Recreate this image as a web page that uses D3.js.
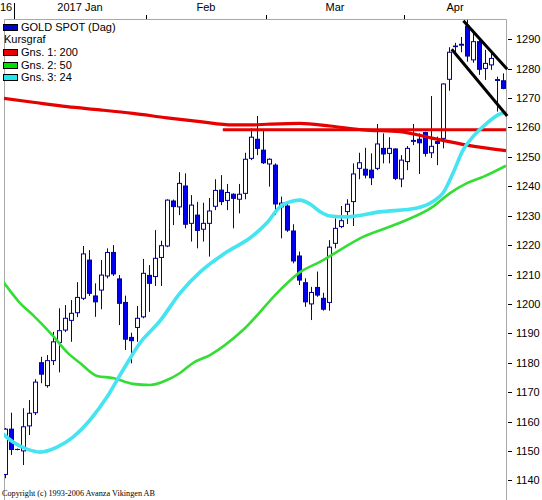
<!DOCTYPE html>
<html lang="sv">
<head>
<meta charset="UTF-8">
<title>GOLD SPOT (Dag)</title>
<script src="https://d3js.org/d3.v7.min.js"></script>
<style>
  * { margin: 0; padding: 0; box-sizing: border-box; }
  body { background: #fff; font-family: "Liberation Sans", Arial, sans-serif; }
  svg { display: block; }
</style>
</head>
<body>
<div id="chart"></div>
<script>
// daily candles, 29 Dec 2016 - 25 Apr 2017
const dates = [
  "2016-12-29","2016-12-30",
  "2017-01-02","2017-01-03","2017-01-04","2017-01-05","2017-01-06","2017-01-09","2017-01-10","2017-01-11",
  "2017-01-12","2017-01-13","2017-01-16","2017-01-17","2017-01-18","2017-01-19","2017-01-20","2017-01-23",
  "2017-01-24","2017-01-25","2017-01-26","2017-01-27","2017-01-30","2017-01-31",
  "2017-02-01","2017-02-02","2017-02-03","2017-02-06","2017-02-07","2017-02-08","2017-02-09","2017-02-10",
  "2017-02-13","2017-02-14","2017-02-15","2017-02-16","2017-02-17","2017-02-20","2017-02-21","2017-02-22",
  "2017-02-23","2017-02-24","2017-02-27","2017-02-28",
  "2017-03-01","2017-03-02","2017-03-03","2017-03-06","2017-03-07","2017-03-08","2017-03-09","2017-03-10",
  "2017-03-13","2017-03-14","2017-03-15","2017-03-16","2017-03-17","2017-03-20","2017-03-21","2017-03-22",
  "2017-03-23","2017-03-24","2017-03-27","2017-03-28","2017-03-29","2017-03-30","2017-03-31",
  "2017-04-03","2017-04-04","2017-04-05","2017-04-06","2017-04-07","2017-04-10","2017-04-11","2017-04-12",
  "2017-04-13","2017-04-14","2017-04-17","2017-04-18","2017-04-19","2017-04-20","2017-04-21","2017-04-24",
  "2017-04-25"
];
const open = [
  1142.0,1157.4,1150.5,1150.0,1158.5,1163.0,1180.0,1172.2,1180.7,1186.9,1191.1,1194.4,1197.0,1201.9,
  1214.9,1202.7,1204.7,1209.5,1217.5,1208.5,1200.5,1188.6,1192.0,1195.6,1209.7,1209.3,1215.8,1219.7,
  1235.0,1233.0,1240.1,1227.4,1230.2,1225.4,1227.4,1233.2,1238.7,1235.2,1237.3,1235.6,1237.6,1249.5,
  1256.0,1252.3,1247.6,1247.2,1233.0,1233.3,1224.8,1216.3,1207.2,1200.0,1205.6,1201.9,1200.5,1220.6,
  1226.3,1231.4,1234.8,1246.1,1245.8,1245.5,1246.1,1252.9,1251.2,1252.7,1242.5,1248.4,1255.3,1256.0,
  1258.3,1251.4,1255.2,1256.3,1276.4,1287.5,1288.0,1294.5,1283.0,1289.2,1280.1,1281.3,1276.0,1275.9
];
const high = [
  1157.8,1163.0,1150.8,1164.5,1167.3,1174.4,1182.0,1182.6,1190.5,1198.5,1199.6,1201.3,1207.4,1219.7,
  1218.3,1207.0,1214.9,1218.9,1220.0,1209.8,1202.8,1190.2,1199.3,1215.3,1213.2,1225.1,1221.5,1235.6,
  1235.5,1244.8,1244.4,1237.0,1234.7,1234.4,1236.0,1242.4,1243.8,1240.8,1237.6,1240.8,1251.4,1259.7,
  1263.9,1259.1,1249.5,1247.8,1236.5,1234.3,1227.1,1217.8,1208.7,1205.8,1211.0,1203.8,1221.7,1229.1,
  1233.3,1235.6,1247.8,1251.4,1253.1,1251.2,1261.2,1258.0,1256.7,1252.9,1250.6,1253.7,1261.2,1258.0,
  1258.6,1270.7,1256.9,1275.0,1287.3,1288.8,1290.8,1296.6,1293.2,1289.8,1286.4,1285.8,1277.3,1278.4
];
const low = [
  1140.7,1148.6,1150.2,1145.2,1155.4,1162.2,1173.0,1171.5,1179.2,1176.7,1190.4,1187.1,1195.5,1201.3,
  1202.7,1195.6,1198.2,1208.7,1209.5,1192.8,1184.3,1179.8,1187.1,1195.1,1197.3,1206.1,1206.1,1219.3,
  1226.8,1230.2,1225.7,1221.2,1218.9,1221.2,1216.1,1231.9,1233.6,1231.9,1225.7,1230.8,1235.6,1248.9,
  1250.6,1247.6,1239.9,1230.2,1222.3,1224.5,1213.8,1206.4,1199.0,1194.5,1202.4,1197.7,1197.7,1218.9,
  1225.8,1227.2,1226.5,1242.4,1242.7,1240.4,1245.5,1247.8,1247.8,1242.1,1239.7,1245.5,1254.0,1244.2,
  1250.1,1249.6,1247.2,1252.9,1272.5,1285.2,1285.6,1282.4,1282.0,1277.9,1276.2,1279.6,1265.4,1273.0
];
const close = [
  1157.4,1150.5,1150.5,1158.2,1162.8,1173.4,1176.1,1180.7,1187.1,1190.9,1195.1,1196.8,1202.2,1217.0,
  1203.6,1200.7,1209.8,1217.5,1210.2,1200.2,1188.0,1187.5,1195.1,1210.4,1207.0,1215.5,1219.8,1235.3,
  1233.1,1241.0,1227.1,1233.6,1225.0,1227.4,1231.6,1238.6,1234.8,1237.9,1235.9,1237.3,1249.2,1256.7,
  1252.9,1248.0,1249.2,1234.0,1234.3,1225.1,1214.6,1208.1,1200.7,1203.9,1203.0,1198.2,1219.3,1225.7,
  1228.3,1233.9,1244.2,1248.0,1243.8,1242.9,1254.4,1251.0,1252.9,1242.7,1248.9,1252.9,1255.6,1254.8,
  1251.2,1253.6,1254.6,1274.8,1285.6,1287.7,1288.3,1284.3,1289.2,1279.8,1281.8,1283.5,1276.3,1273.3
];

// moving averages: [candle position, price]
const ma200 = [[-0.5,1270.0],[4.67,1268.6],[10.33,1267.1],[15.83,1266.0],[21.33,1264.8],[27,1263.3],
  [32.5,1262.0],[38,1260.9],[41.33,1260.9],[43.67,1261.1],[49.17,1261.4],[54.17,1260.5],[59.67,1259.2],
  [65.83,1258.6],[71.33,1256.3],[77,1254.0],[83.5,1252.1]];
const ma50 = [[-0.5,1208.1],[2.5,1200.3],[4.67,1196.2],[8,1189.1],[10.33,1183.6],[12.5,1179.9],
  [15.33,1175.5],[18,1174.8],[21.33,1172.8],[24.17,1172.4],[27,1174.1],[29.17,1176.5],[31.33,1179.9],
  [34.17,1182.6],[39.67,1191.1],[45.83,1204.7],[49.17,1210.8],[52.5,1214.3],[59.67,1222.8],
  [65.83,1227.6],[71.33,1233.1],[74.17,1237.7],[77,1241.1],[79.67,1243.2],[83.5,1247.0]];
const ma24 = [[-0.5,1156.1],[1.33,1153.0],[3.67,1150.6],[5.83,1149.6],[8.67,1151.3],[11.33,1154.7],
  [14.17,1160.5],[17,1168.3],[19.67,1177.5],[22.5,1186.7],[25.83,1194.2],[29.17,1203.7],[32.5,1210.8],
  [37,1217.7],[40.83,1222.4],[43.67,1227.6],[45.83,1233.0],[48,1235.0],[49.17,1235.3],[50.83,1234.0],
  [52.5,1231.4],[54.17,1229.9],[57,1229.6],[62.5,1231.3],[68.67,1232.6],[71.33,1234.8],[73,1237.7],
  [74.67,1244.5],[76.33,1252.3],[78,1256.9],[80.33,1261.5],[82.5,1264.6],[83.5,1265.0]];

// drawn lines
const resistance = [[36.3, 1259.2], [84.5, 1259.2]];
const channelTop = [[76.4, 1296.3], [83.7, 1279.8]];
const channelBottom = [[74.45, 1286.6], [83.7, 1263.9]];

const priceTicks = [1140,1150,1160,1170,1180,1190,1200,1210,1220,1230,1240,1250,1260,1270,1280,1290];
const monthLabels = ["16", "2017 Jan", "Feb", "Mar", "Apr"];
const monthStarts = ["2016-12-29", "2017-01-02", "2017-02-01", "2017-03-01", "2017-04-03"];

const legendItems = [
  { text: "Gns. 1: 200", color: "#e60000" },
  { text: "Gns. 2: 50", color: "#00e000" },
  { text: "Gns. 3: 24", color: "#22e6ee" }
];

const W = 542, H = 500;
const plot = { left: 4, right: 506, top: 19, bottom: 500 };

const candles = dates.map((d, i) => ({ date: d, o: open[i], h: high[i], l: low[i], c: close[i] }));

const svg = d3.select("#chart").append("svg")
  .attr("width", W).attr("height", H)
  .style("font-family", '"Liberation Sans", Arial, sans-serif');

const x = d3.scaleBand().domain(dates).range([2, 506]).paddingInner(0).paddingOuter(0);
const y = d3.scaleLinear().domain([1140, 1290]).range([480.3, 39.3]);

// position of a (possibly fractional) candle index
const px = p => x(dates[0]) + x.step() * p + x.bandwidth() / 2;

svg.append("defs").append("clipPath").attr("id", "plotclip")
  .append("rect")
  .attr("x", plot.left).attr("y", plot.top)
  .attr("width", plot.right - plot.left).attr("height", plot.bottom - plot.top);

// frame
svg.append("path")
  .attr("d", `M${plot.left + 0.5},${H} V${plot.top + 0.5} H${plot.right + 0.5} V${H}`)
  .attr("fill", "none").attr("stroke", "#a8a8a8").attr("stroke-width", 1);

// month ticks and labels on top
monthStarts.forEach((m, i) => {
  const x0 = x(m);
  const x1 = i < monthStarts.length - 1 ? x(monthStarts[i + 1]) : plot.right;
  if (i > 0) {
    svg.append("line")
      .attr("x1", x0 + 0.5).attr("x2", x0 + 0.5)
      .attr("y1", i === 1 ? 3 : 15).attr("y2", plot.top)
      .attr("stroke", "#000").attr("stroke-width", 1);
  }
  svg.append("text")
    .attr("x", i === 0 ? 0 : (x0 + x1) / 2)
    .attr("y", 11)
    .attr("text-anchor", i === 0 ? "start" : "middle")
    .style("font-size", "11px")
    .attr("fill", "#000")
    .text(monthLabels[i]);
});

// price axis on the right
const yAxis = svg.append("g").attr("class", "yaxis");
priceTicks.forEach(t => {
  const yy = Math.round(y(t)) + 0.5;
  yAxis.append("line")
    .attr("x1", 508).attr("x2", 512)
    .attr("y1", yy).attr("y2", yy)
    .attr("stroke", "#000");
  yAxis.append("text")
    .attr("x", 516).attr("y", yy)
    .attr("dy", "0.36em")
    .style("font-size", "11px")
    .attr("fill", "#000")
    .text(t);
});

const g = svg.append("g").attr("clip-path", "url(#plotclip)");

// candles
const cg = g.append("g").selectAll("g")
  .data(candles)
  .join("g");

cg.append("line")
  .attr("x1", d => x(d.date) + 3.5).attr("x2", d => x(d.date) + 3.5)
  .attr("y1", d => y(d.h)).attr("y2", d => y(d.l))
  .attr("stroke", "#00009a").attr("stroke-width", 1);

cg.append("rect")
  .attr("x", d => x(d.date) + 1.5)
  .attr("y", d => y(Math.max(d.o, d.c)))
  .attr("width", 4)
  .attr("height", d => Math.max(0.01, Math.abs(y(d.o) - y(d.c))))
  .attr("fill", d => d.c < d.o ? "#0000ee" : "#fff")
  .attr("stroke", "#00009a").attr("stroke-width", 1);

// moving averages
const line = d3.line().x(d => px(d[0])).y(d => y(d[1])).curve(d3.curveMonotoneX);

g.append("path").datum(ma200).attr("d", line)
  .attr("fill", "none").attr("stroke", "#e60000").attr("stroke-width", 3.2);
g.append("path").datum(resistance).attr("d", line)
  .attr("fill", "none").attr("stroke", "#e60000").attr("stroke-width", 3);
g.append("path").datum(ma50).attr("d", line)
  .attr("fill", "none").attr("stroke", "#33dd33").attr("stroke-width", 2.6);
g.append("path").datum(ma24).attr("d", line)
  .attr("fill", "none").attr("stroke", "#44e4f0").attr("stroke-width", 3.6);

// channel
[channelTop, channelBottom].forEach(c => {
  svg.append("path").datum(c)
    .attr("d", d3.line().x(d => px(d[0])).y(d => y(d[1])))
    .attr("fill", "none").attr("stroke", "#000").attr("stroke-width", 3);
});

// legend
const lg = svg.append("g").style("font-size", "11px");
lg.append("rect").attr("x", 3.5).attr("y", 24.5).attr("width", 14).attr("height", 6)
  .attr("fill", "#0000cc").attr("stroke", "#000");
lg.append("text").attr("x", 21).attr("y", 31).text("GOLD SPOT (Dag)");
lg.append("text").attr("x", 4).attr("y", 43).text("Kursgraf");
legendItems.forEach((it, i) => {
  const by = 56 + i * 12.6;
  lg.append("rect").attr("x", 3.5).attr("y", Math.round(by - 7) + 0.5).attr("width", 14).attr("height", 6)
    .attr("fill", it.color).attr("stroke", "#000");
  lg.append("text").attr("x", 21).attr("y", by).text(it.text);
});

// copyright
svg.append("text")
  .attr("x", 2).attr("y", 496)
  .style("font-family", '"Liberation Serif", "Times New Roman", serif')
  .style("font-size", "9px")
  .attr("textLength", 153)
  .attr("lengthAdjust", "spacingAndGlyphs")
  .attr("fill", "#000")
  .text("Copyright (c) 1993-2006 Avanza Vikingen AB");
</script>
</body>
</html>
